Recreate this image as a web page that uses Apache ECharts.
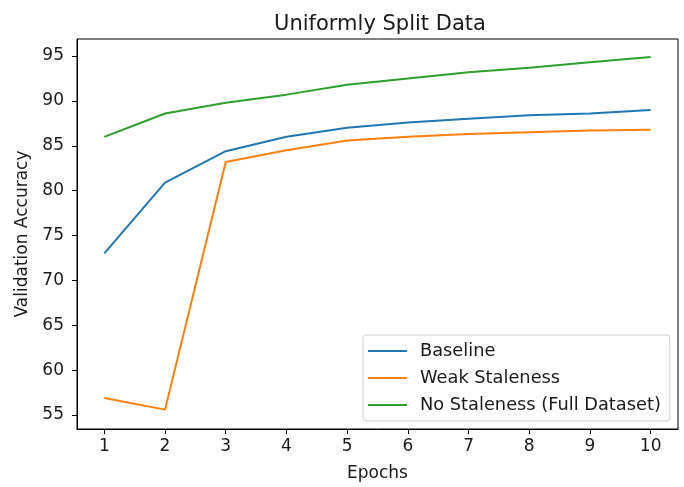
<!DOCTYPE html>
<html>
<head>
<meta charset="utf-8">
<script src="https://cdn.jsdelivr.net/npm/echarts@6/dist/echarts.min.js"></script>
<style>
  html, body { margin: 0; padding: 0; background: #fff; }
  #chart { width: 684px; height: 487px; }
</style>
</head>
<body>
<div id="chart"></div>
<script>
const epochs = [1, 2, 3, 4, 5, 6, 7, 8, 9, 10];
const baseline = [73.0, 80.9, 84.4, 86.0, 87.0, 87.6, 88.0, 88.4, 88.6, 89.0];
const weakStaleness = [56.9, 55.6, 83.2, 84.5, 85.6, 86.0, 86.3, 86.5, 86.7, 86.8];
const noStaleness = [86.0, 88.6, 89.8, 90.7, 91.8, 92.5, 93.2, 93.7, 94.3, 94.9];
const yTicks = [55, 60, 65, 70, 75, 80, 85, 90, 95];

const font = 'DejaVu Sans';
const textColor = '#1a1a1a';
const pair = (ys) => epochs.map((x, i) => [x, ys[i]]);

const chart = echarts.init(document.getElementById('chart'));

const lineSeries = (name, ys, color) => ({
    name: name,
    type: 'line',
    data: pair(ys),
    symbol: 'none',
    lineStyle: { color: color, width: 2 },
    itemStyle: { color: color },
    animation: false
});

chart.setOption({
    backgroundColor: '#fff',
    title: {
        text: 'Uniformly Split Data',
        left: 375,
        top: 9,
        textAlign: 'center',
        textStyle: { fontFamily: font, fontSize: 21, fontWeight: 'normal', color: textColor }
    },
    grid: {
        left: 77, right: 6, top: 39, bottom: 57,
        show: true, borderColor: '#000', borderWidth: 1
    },
    legend: {
        orient: 'vertical',
        left: 363,
        top: 335,
        padding: [6, 9, 6, 5],
        itemGap: 7,
        itemWidth: 39,
        itemHeight: 2,
        icon: 'rect',
        backgroundColor: 'rgba(255,255,255,0.8)',
        borderColor: '#d0d0d0',
        borderWidth: 1,
        borderRadius: 3,
        textStyle: { fontFamily: font, fontSize: 17.8, color: textColor, lineHeight: 20, padding: [0, 0, 0, 8] },
        data: ['Baseline', 'Weak Staleness', 'No Staleness (Full Dataset)']
    },
    xAxis: {
        type: 'value',
        min: 0.55,
        max: 10.45,
        name: 'Epochs',
        nameLocation: 'middle',
        nameGap: 36,
        nameTextStyle: { fontFamily: font, fontSize: 17, color: textColor },
        splitLine: { show: false },
        axisLine: { show: true, lineStyle: { color: '#000' } },
        axisTick: { show: true, customValues: epochs, length: 5, lineStyle: { color: '#000' } },
        axisLabel: { customValues: epochs, fontFamily: font, fontSize: 17, color: textColor, margin: 9 }
    },
    yAxis: {
        type: 'value',
        min: 53.44,
        max: 96.9,
        name: 'Validation Accuracy',
        nameLocation: 'middle',
        nameGap: 46,
        nameRotate: 90,
        nameTextStyle: { fontFamily: font, fontSize: 17, color: textColor },
        splitLine: { show: false },
        axisLine: { show: true, lineStyle: { color: '#000' } },
        axisTick: { show: true, customValues: yTicks, length: 5, lineStyle: { color: '#000' } },
        axisLabel: { customValues: yTicks, fontFamily: font, fontSize: 17, color: textColor, margin: 13 }
    },
    series: [
        lineSeries('Baseline', baseline, '#1f77b4'),
        lineSeries('Weak Staleness', weakStaleness, '#ff7f0e'),
        lineSeries('No Staleness (Full Dataset)', noStaleness, '#2ca02c')
    ]
});
</script>
</body>
</html>
